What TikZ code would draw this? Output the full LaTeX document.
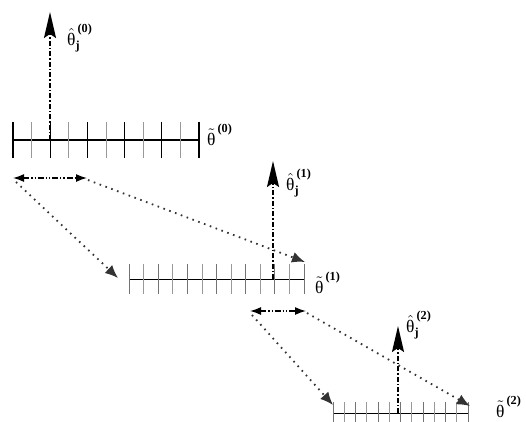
\documentclass[tikz,border=0pt]{standalone}
\usepackage{graphicx}
\usepackage{fontspec}
\setmainfont{Liberation Serif}
\usetikzlibrary{arrows.meta}
\tikzset{
  majortick/.style={line width=1.3pt,black},
  minortick/.style={line width=0.8pt,black!40},
  thintick/.style={line width=0.8pt,black!55},
  vecarrow/.style={line width=1.6pt,dash pattern=on 5pt off 2pt on 1.5pt off 2pt,
    -{Stealth[length=26pt,width=12pt,inset=4pt]}},
  spanarrow/.style={line width=1.4pt,dash pattern=on 6pt off 2pt on 1.2pt off 2pt on 1.2pt off 2pt,
    {Latex[length=11pt,width=8pt]}-{Latex[length=11pt,width=8pt]}},
  mapline/.style={line width=1.8pt,black!80,dash pattern=on 1.6pt off 4.6pt,
    -{Latex[length=13pt,width=11pt]}},
  lbl/.style={inner sep=0pt,anchor=base west},
}
\newcommand{\hatlbl}[1]{\scalebox{1.75}{$\hat{\mbox{θ}}_{\mbox{\scriptsize\bfseries j}}^{\mbox{\scriptsize\bfseries\,(#1)}}$}}
\newcommand{\tillbl}[1]{\scalebox{1.75}{$\tilde{\mbox{θ}}^{\mbox{\scriptsize\bfseries\,(#1)}}$}}
\newcommand{\mkruler}[8]{% x0 x1 y n halftick name linewidth evenstyle
  \draw[line width=#7] (#1,#3) coordinate (#6w) -- (#2,#3) coordinate (#6e);
  \foreach \i in {0,...,#4}{
    \pgfmathsetmacro{\xx}{#1+(#2-#1)*\i/#4}
    \pgfmathtruncatemacro{\parity}{mod(\i,2)}
    \ifnum\parity=0
      \draw[#8] (\xx,#3-#5) -- (\xx,#3+#5);
    \else
      \draw[minortick] (\xx,#3-#5) -- (\xx,#3+#5);
    \fi
  }
}
\begin{document}
\begin{tikzpicture}[x=1pt,y=-1pt]
\useasboundingbox (0,0) rectangle (526,421);
\fill[white] (0,0) rectangle (526,421);

% rulers
\mkruler{13}{199}{140}{10}{18}{r0}{1.5pt}{majortick}
\mkruler{129}{304}{279}{12}{15}{r1}{0.9pt}{thintick}
\mkruler{333}{468}{413}{12}{11}{r2}{0.9pt}{thintick}

% named points
\coordinate (v0s) at (50,140);
\coordinate (v0e) at (50,12);
\coordinate (v1s) at (273,279);
\coordinate (v1e) at (273,161);
\coordinate (v2s) at (398,413);
\coordinate (v2e) at (398,326);

\coordinate (s0a) at (13,178);
\coordinate (s0b) at (87,178);
\coordinate (s1a) at (250,311);
\coordinate (s1b) at (306,311);

\coordinate (t1a) at (118,278);
\coordinate (t1b) at (305,262);
\coordinate (t2a) at (333,405);
\coordinate (t2b) at (470,406);

% vertical arrows
\draw[vecarrow] (v0s) -- (v0e);
\draw[vecarrow] (v1s) -- (v1e);
\draw[vecarrow] (v2s) -- (v2e);

% span arrows
\draw[spanarrow] (s0a) -- (s0b);
\draw[spanarrow] (s1a) -- (s1b);

% mapping lines
\draw[mapline] ([shift={(3,4)}]s0a) -- (t1a);
\draw[mapline] ([shift={(1,2)}]s0b) -- (t1b);
\draw[mapline] ([shift={(2,4)}]s1a) -- (t2a);
\draw[mapline] ([shift={(1,2)}]s1b) -- (t2b);

% labels
\node[lbl] (h0) at (67,45) {\hatlbl{0}};
\node[lbl] (g0) at (207,145) {\tillbl{0}};
\node[lbl] (h1) at (286,190) {\hatlbl{1}};
\node[lbl] (g1) at (315,293) {\tillbl{1}};
\node[lbl] (h2) at (406,332) {\hatlbl{2}};
\node[lbl] (g2) at (496,417) {\tillbl{2}};
\end{tikzpicture}
\end{document}
